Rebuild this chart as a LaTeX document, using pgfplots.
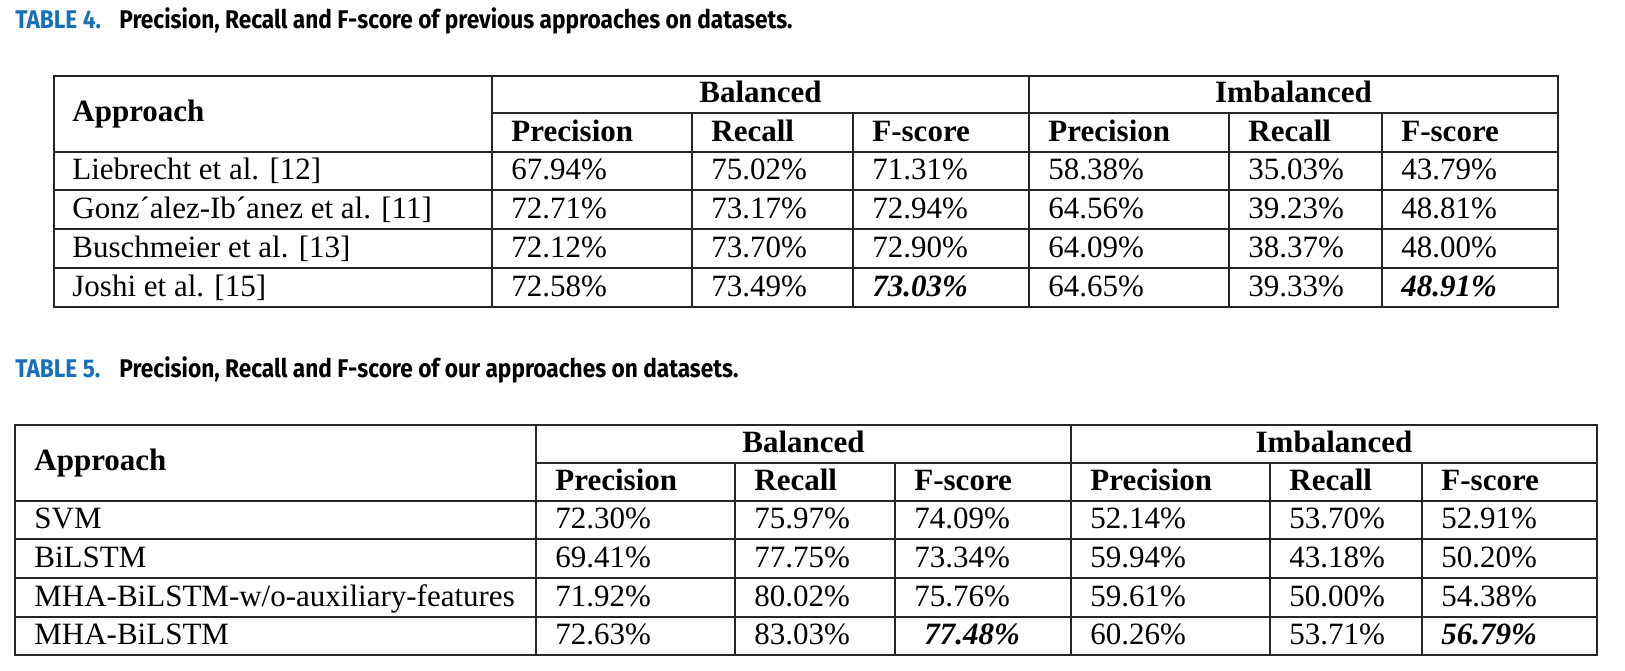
\documentclass[border=0pt]{standalone}
\usepackage{pgfplots}
\pgfplotsset{compat=1.18}
\usepackage{pgfplotstable}
\usepackage{fontspec}
\setmainfont{Liberation Serif}
\newfontfamily\capfont[FakeStretch=0.885]{Fira Sans}
\definecolor{capblue}{RGB}{23,112,184}
\newcommand\cellfont{\fontsize{15.5}{18.6}\selectfont}
\newcommand\capsize{\capfont\bfseries\fontsize{12.8}{15}\selectfont}

% 1 unit = 1 px of the 1625x670 reference; y = text baseline
\pgfplotstableread{
y   bp    br    bf    ip    ir    ifs
179 67.94 75.02 71.31 58.38 35.03 43.79
218 72.71 73.17 72.94 64.56 39.23 48.81
257 72.12 73.70 72.90 64.09 38.37 48.00
296 72.58 73.49 73.03 64.65 39.33 48.91
}\tabfour
\pgfplotstableread{
y   bp    br    bf    ip    ir    ifs
528 72.30 75.97 74.09 52.14 53.70 52.91
567 69.41 77.75 73.34 59.94 43.18 50.20
606 71.92 80.02 75.76 59.61 50.00 54.38
644 72.63 83.03 77.48 60.26 53.71 56.79
}\tabfive
\pgfplotstableread{
y   label
179 {Liebrecht et al. [12]}
218 {Gonz´alez-Ib´anez et al. [11]}
257 {Buschmeier et al. [13]}
296 {Joshi et al. [15]}
}\namesfour
\pgfplotstableread{
y   label
528 {SVM}
567 {BiLSTM}
606 {MHA-BiLSTM-w/o-auxiliary-features}
644 {MHA-BiLSTM}
}\namesfive

\newcommand\pct{\pgfmathprintnumber[fixed,fixed zerofill,precision=2,assume math mode=true]{\pgfplotspointmeta}\%}

\pgfplotsset{
  celltxt/.style={draw=none, mark=none,
    every node near coord/.append style={anchor=base west, inner sep=0pt, font=\cellfont, text=black}},
  cellnum/.style={celltxt, point meta=explicit, nodes near coords={\pct}},
  cellbest/.style={celltxt, point meta=explicit, nodes near coords={\textbf{\textit{\pct}}}},
  cellname/.style={celltxt, point meta=explicit symbolic, nodes near coords},
  tabrule/.style={black!85, line width=0.8pt, line cap=rect, mark=none},
  notlast/.style={skip coords between index={3}{4}},
  onlylast/.style={skip coords between index={0}{3}},
}

\begin{document}
\begin{tikzpicture}
\begin{axis}[
  width=812.5pt, height=335pt, scale only axis,
  xmin=0, xmax=1625, ymin=0, ymax=670, y dir=reverse,
  hide axis, clip=false
]
\path (rel axis cs:0,0) rectangle (rel axis cs:1,1);
% ---- TABLE 4 rules
\addplot[tabrule] coordinates {(54,76)(1558,76)};
\addplot[tabrule] coordinates {(492,113)(1558,113)};
\addplot[tabrule] coordinates {(54,152)(1558,152)};
\addplot[tabrule] coordinates {(54,190)(1558,190)};
\addplot[tabrule] coordinates {(54,229)(1558,229)};
\addplot[tabrule] coordinates {(54,268)(1558,268)};
\addplot[tabrule] coordinates {(54,307)(1558,307)};
\addplot[tabrule] coordinates {(54,76)(54,307)};
\addplot[tabrule] coordinates {(492,76)(492,307)};
\addplot[tabrule] coordinates {(1029,76)(1029,307)};
\addplot[tabrule] coordinates {(1558,76)(1558,307)};
\addplot[tabrule] coordinates {(692,113)(692,307)};
\addplot[tabrule] coordinates {(853,113)(853,307)};
\addplot[tabrule] coordinates {(1229,113)(1229,307)};
\addplot[tabrule] coordinates {(1382,113)(1382,307)};
% ---- TABLE 5 rules
\addplot[tabrule] coordinates {(15,425)(1597,425)};
\addplot[tabrule] coordinates {(536,463)(1597,463)};
\addplot[tabrule] coordinates {(15,501)(1597,501)};
\addplot[tabrule] coordinates {(15,539)(1597,539)};
\addplot[tabrule] coordinates {(15,578)(1597,578)};
\addplot[tabrule] coordinates {(15,617)(1597,617)};
\addplot[tabrule] coordinates {(15,655)(1597,655)};
\addplot[tabrule] coordinates {(15,425)(15,655)};
\addplot[tabrule] coordinates {(536,425)(536,655)};
\addplot[tabrule] coordinates {(1071,425)(1071,655)};
\addplot[tabrule] coordinates {(1597,425)(1597,655)};
\addplot[tabrule] coordinates {(735,463)(735,655)};
\addplot[tabrule] coordinates {(895,463)(895,655)};
\addplot[tabrule] coordinates {(1270,463)(1270,655)};
\addplot[tabrule] coordinates {(1422,463)(1422,655)};

% ---- TABLE 4 cells
\addplot[cellname] table[x expr=72, y=y, meta=label] {\namesfour};
\addplot[cellnum] table[x expr=511, y=y, meta=bp] {\tabfour};
\addplot[cellnum] table[x expr=711, y=y, meta=br] {\tabfour};
\addplot[cellnum, notlast] table[x expr=872, y=y, meta=bf] {\tabfour};
\addplot[cellbest, onlylast] table[x expr=872, y=y, meta=bf] {\tabfour};
\addplot[cellnum] table[x expr=1048, y=y, meta=ip] {\tabfour};
\addplot[cellnum] table[x expr=1248, y=y, meta=ir] {\tabfour};
\addplot[cellnum, notlast] table[x expr=1401, y=y, meta=ifs] {\tabfour};
\addplot[cellbest, onlylast] table[x expr=1401, y=y, meta=ifs] {\tabfour};
% ---- TABLE 5 cells
\addplot[cellname] table[x expr=34, y=y, meta=label] {\namesfive};
\addplot[cellnum] table[x expr=555, y=y, meta=bp] {\tabfive};
\addplot[cellnum] table[x expr=754, y=y, meta=br] {\tabfive};
\addplot[cellnum, notlast] table[x expr=914, y=y, meta=bf] {\tabfive};
\addplot[cellbest, onlylast] table[x expr=924, y=y, meta=bf] {\tabfive};
\addplot[cellnum] table[x expr=1090, y=y, meta=ip] {\tabfive};
\addplot[cellnum] table[x expr=1289, y=y, meta=ir] {\tabfive};
\addplot[cellnum, notlast] table[x expr=1441, y=y, meta=ifs] {\tabfive};
\addplot[cellbest, onlylast] table[x expr=1441, y=y, meta=ifs] {\tabfive};

% ---- headers
\begin{scope}[every node/.style={inner sep=0pt, font=\cellfont\bfseries}]
\node[anchor=base west] at (axis cs:72,121) {Approach};
\node[anchor=base] at (axis cs:760.5,102) {Balanced};
\node[anchor=base] at (axis cs:1293.5,102) {Imbalanced};
\node[anchor=base west] at (axis cs:511,141) {Precision};
\node[anchor=base west] at (axis cs:711,141) {Recall};
\node[anchor=base west] at (axis cs:872,141) {F-score};
\node[anchor=base west] at (axis cs:1048,141) {Precision};
\node[anchor=base west] at (axis cs:1248,141) {Recall};
\node[anchor=base west] at (axis cs:1401,141) {F-score};
\node[anchor=base west] at (axis cs:34,470) {Approach};
\node[anchor=base] at (axis cs:803.5,452) {Balanced};
\node[anchor=base] at (axis cs:1334,452) {Imbalanced};
\node[anchor=base west] at (axis cs:555,490) {Precision};
\node[anchor=base west] at (axis cs:754,490) {Recall};
\node[anchor=base west] at (axis cs:914,490) {F-score};
\node[anchor=base west] at (axis cs:1090,490) {Precision};
\node[anchor=base west] at (axis cs:1289,490) {Recall};
\node[anchor=base west] at (axis cs:1441,490) {F-score};
\end{scope}

% ---- captions
\begin{scope}[every node/.style={inner sep=0pt, anchor=base west, font=\capsize}]
\node[text=capblue] at (axis cs:15,28) {TABLE 4.};
\node at (axis cs:119,28) {Precision, Recall and F-score of previous approaches on datasets.};
\node[text=capblue] at (axis cs:15,377) {TABLE 5.};
\node at (axis cs:119,377) {Precision, Recall and F-score of our approaches on datasets.};
\end{scope}
\end{axis}
\end{tikzpicture}
\end{document}
